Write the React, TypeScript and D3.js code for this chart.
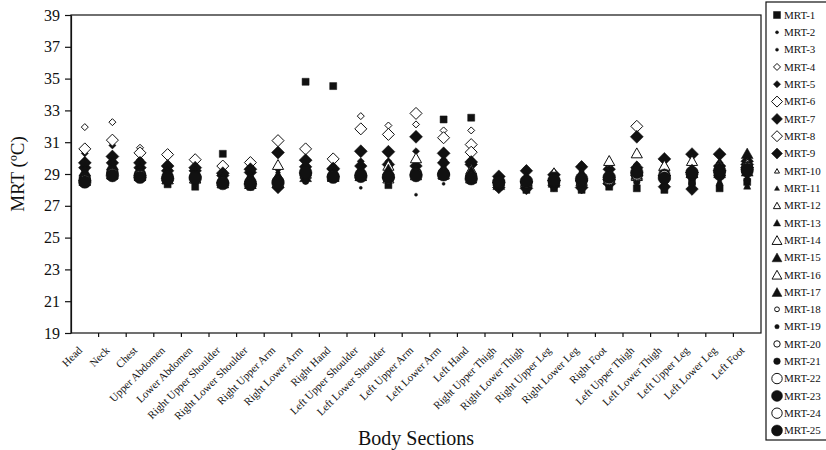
import React, { useEffect, useRef } from "react";
import * as d3 from "d3";

const sections = [
  "Head", "Neck", "Chest", "Upper Abdomen", "Lower Abdomen", "Right Upper Shoulder",
  "Right Lower Shoulder", "Right Upper Arm", "Right Lower Arm", "Right Hand",
  "Left Upper Shoulder", "Left Lower Shoulder", "Left Upper Arm", "Left Lower Arm",
  "Left Hand", "Right Upper Thigh", "Right Lower Thigh", "Right Upper Leg",
  "Right Lower Leg", "Right Foot", "Left Upper Thigh", "Left Lower Thigh",
  "Left Upper Leg", "Left Lower Leg", "Left Foot",
];

const yTicks = [19, 21, 23, 25, 27, 29, 31, 33, 35, 37, 39];

// MRT values (ºC) per body section
const mrt1 = [28.5, 29.0, 28.9, 28.35, 28.2, 30.27, 28.2, 28.6, 34.8, 34.53, 28.8, 28.3, 28.9, 32.43, 32.54, 28.2, 28.0, 28.1, 28.0, 28.2, 28.1, 28.0, 28.5, 28.1, 28.5];
const mrt2 = [29.2, 29.6, 29.3, 29.0, 28.9, 28.7, 28.7, 28.8, 28.6, 29.1, 28.13, 28.9, 27.7, 29.3, 29.0, 28.4, 28.4, 28.4, 28.6, 28.8, 28.8, 28.3, 28.6, 28.4, 28.7];
const mrt3 = [29.4, 29.8, 29.5, 29.2, 29.1, 28.8, 28.9, 29.0, 28.9, 29.2, 29.6, 29.1, 29.1, 28.38, 29.2, 28.6, 28.6, 28.5, 28.7, 28.9, 28.9, 28.5, 28.8, 28.6, 28.9];
const mrt4 = [31.95, 32.26, 30.65, 28.7, 28.75, 28.45, 28.4, 28.5, 29.05, 28.85, 32.64, 32.05, 32.12, 31.74, 31.74, 28.45, 28.5, 28.6, 28.6, 28.65, 28.9, 28.9, 29.1, 29.2, 29.4];
const mrt5 = [30.3, 30.8, 29.9, 29.65, 29.5, 29.2, 29.5, 29.3, 29.55, 29.5, 29.8, 29.8, 30.43, 29.9, 29.9, 28.9, 29.35, 29.0, 29.6, 29.5, 29.6, 29.5, 29.6, 29.7, 30.0];
const mrt6 = [30.58, 31.13, 30.33, 30.22, 29.9, 29.5, 29.72, 31.1, 30.58, 29.95, 31.84, 31.49, 32.81, 31.28, 30.85, 28.45, 28.5, 28.6, 28.6, 28.65, 32.0, 28.9, 29.1, 29.2, 29.4];
const mrt7 = [29.4, 29.7, 29.4, 29.2, 29.2, 28.9, 29.1, 28.15, 29.45, 29.3, 29.5, 29.6, 29.5, 29.7, 29.6, 28.15, 29.2, 28.3, 29.45, 29.3, 29.4, 28.2, 28.05, 29.5, 29.8];
const mrt8 = [28.6, 29.0, 28.9, 28.7, 28.75, 28.45, 28.4, 28.5, 29.05, 28.85, 28.9, 28.75, 28.95, 29.0, 30.37, 28.45, 28.5, 28.6, 28.6, 28.65, 28.9, 28.9, 29.1, 29.2, 29.4];
const mrt9 = [29.7, 30.1, 29.7, 29.5, 29.4, 29.05, 29.3, 30.35, 29.87, 29.35, 30.43, 30.4, 31.34, 30.3, 29.75, 28.85, 28.1, 28.95, 28.15, 28.4, 31.34, 29.95, 30.25, 30.25, 29.6];
const mrt10 = [28.55, 29.0, 28.85, 28.7, 28.7, 28.45, 28.4, 28.5, 29.0, 28.85, 28.9, 28.7, 28.95, 29.0, 28.75, 28.45, 28.5, 29.25, 28.6, 29.6, 28.9, 29.6, 29.1, 29.7, 29.9];
const mrt11 = [29.6, 29.9, 29.6, 29.4, 29.35, 29.0, 29.2, 29.2, 29.35, 29.2, 29.7, 29.7, 29.6, 29.6, 29.5, 28.8, 29.0, 28.9, 29.3, 29.4, 29.5, 29.4, 29.5, 29.9, 28.3];
const mrt12 = [28.6, 28.95, 28.9, 28.7, 28.75, 28.5, 28.4, 28.5, 29.05, 28.8, 28.9, 28.75, 28.9, 29.0, 28.75, 28.45, 28.5, 28.6, 28.65, 28.65, 28.9, 29.55, 29.1, 29.65, 29.75];
const mrt13 = [29.4, 29.8, 29.5, 29.3, 29.25, 28.9, 29.0, 29.0, 29.3, 29.1, 29.4, 29.5, 29.4, 29.5, 29.4, 28.7, 28.9, 28.8, 29.2, 29.25, 29.3, 29.3, 29.45, 29.6, 28.25];
const mrt14 = [28.6, 29.0, 28.9, 28.7, 28.75, 28.45, 28.4, 29.6, 29.05, 28.85, 28.9, 29.55, 30.02, 29.0, 29.3, 28.45, 28.5, 28.6, 28.6, 29.85, 28.9, 29.5, 29.85, 29.2, 29.5];
const mrt15 = [29.2, 29.6, 29.3, 29.1, 29.15, 28.75, 28.85, 28.9, 29.2, 29.0, 29.3, 29.3, 29.3, 29.35, 29.2, 28.6, 28.8, 28.7, 29.0, 29.1, 29.2, 29.2, 29.3, 29.4, 30.3];
const mrt16 = [28.6, 29.0, 28.9, 28.7, 28.75, 28.45, 28.4, 28.5, 29.05, 28.85, 28.9, 28.75, 28.95, 29.0, 28.75, 28.45, 28.5, 28.6, 28.6, 28.65, 30.33, 29.55, 29.1, 29.2, 29.4];
const mrt17 = [29.0, 29.4, 29.1, 28.9, 28.95, 28.6, 28.7, 28.7, 28.85, 28.9, 29.1, 29.1, 29.2, 29.2, 29.0, 28.35, 28.6, 28.5, 28.85, 28.9, 29.0, 29.0, 29.1, 29.1, 29.2];
const mrt18 = [28.55, 29.0, 28.9, 28.75, 28.75, 28.45, 28.4, 28.5, 29.05, 28.85, 28.95, 28.75, 28.95, 29.0, 28.7, 28.45, 28.5, 28.6, 28.6, 28.7, 28.9, 28.9, 29.1, 29.2, 29.4];
const mrt19 = [29.1, 29.5, 29.2, 29.0, 29.1, 28.7, 28.8, 28.8, 28.5, 29.0, 29.2, 28.5, 29.1, 29.1, 29.1, 28.5, 28.7, 28.6, 28.9, 29.0, 28.6, 28.4, 28.6, 28.5, 28.7];
const mrt20 = [28.6, 29.0, 28.9, 28.7, 28.8, 28.45, 28.4, 28.5, 29.05, 28.85, 28.9, 28.8, 28.95, 29.0, 28.75, 28.45, 28.5, 28.6, 28.6, 28.65, 28.9, 28.9, 29.1, 29.2, 29.35];
const mrt21 = [28.9, 29.3, 29.0, 28.85, 29.0, 28.55, 28.6, 28.6, 28.55, 28.95, 29.0, 28.95, 29.0, 29.0, 28.9, 28.3, 28.35, 28.45, 28.5, 28.6, 28.5, 28.3, 28.4, 28.3, 28.6];
const mrt22 = [28.6, 29.0, 28.9, 28.7, 28.75, 28.45, 28.4, 28.5, 29.05, 28.85, 28.9, 28.75, 28.95, 29.0, 28.75, 28.45, 28.5, 28.6, 28.6, 28.65, 28.9, 28.9, 29.1, 29.2, 29.4];
const mrt23 = [28.75, 29.15, 29.0, 28.85, 28.85, 28.5, 28.5, 28.55, 29.0, 28.9, 29.0, 28.85, 29.05, 29.05, 28.8, 28.4, 28.45, 28.55, 28.55, 28.6, 29.0, 28.95, 28.95, 28.95, 29.15];
const mrt24 = [28.6, 29.0, 28.9, 28.7, 28.75, 28.45, 28.4, 28.5, 29.1, 28.85, 28.9, 28.75, 28.95, 29.0, 28.75, 28.5, 28.5, 28.6, 28.65, 28.65, 28.95, 28.9, 29.1, 29.2, 29.4];
const mrt25 = [28.5, 28.9, 28.8, 28.7, 28.75, 28.4, 28.35, 28.45, 29.1, 28.8, 28.85, 28.8, 28.9, 28.95, 28.7, 28.5, 28.55, 28.6, 28.7, 28.8, 29.1, 28.75, 29.1, 29.2, 29.3];

const seriesNames = d3.range(1, 26).map((i) => `MRT-${i}`);
const seriesValues = [
  mrt1, mrt2, mrt3, mrt4, mrt5, mrt6, mrt7, mrt8, mrt9, mrt10, mrt11, mrt12, mrt13,
  mrt14, mrt15, mrt16, mrt17, mrt18, mrt19, mrt20, mrt21, mrt22, mrt23, mrt24, mrt25,
];

// marker look for each series (shape, half size in px, filled or open)
const markerStyles = [
  { shape: "square", r: 3.5, filled: true },
  { shape: "circle", r: 1.5, filled: true },
  { shape: "circle", r: 1.5, filled: true },
  { shape: "diamond", r: 3.5, filled: false },
  { shape: "diamond", r: 3.6, filled: true },
  { shape: "diamond", r: 6, filled: false },
  { shape: "diamond", r: 6.3, filled: true },
  { shape: "diamond", r: 6, filled: false },
  { shape: "diamond", r: 6.5, filled: true },
  { shape: "triangle", r: 2.8, filled: false },
  { shape: "triangle", r: 2.8, filled: true },
  { shape: "triangle", r: 4, filled: false },
  { shape: "triangle", r: 4, filled: true },
  { shape: "triangle", r: 6.2, filled: false },
  { shape: "triangle", r: 6.6, filled: true },
  { shape: "triangle", r: 6.2, filled: false },
  { shape: "triangle", r: 6.6, filled: true },
  { shape: "circle", r: 2.4, filled: false },
  { shape: "circle", r: 2.2, filled: true },
  { shape: "circle", r: 3.2, filled: false },
  { shape: "circle", r: 3.3, filled: true },
  { shape: "circle", r: 5.2, filled: false },
  { shape: "circle", r: 5.8, filled: true },
  { shape: "circle", r: 5.2, filled: false },
  { shape: "circle", r: 6.3, filled: true },
];

const FONT = "'Liberation Serif', 'Times New Roman', serif";

function markerPath(shape: string, r: number) {
  if (shape === "square") return `M${-r},${-r}H${r}V${r}H${-r}Z`;
  if (shape === "diamond") return `M0,${-r}L${r},0L0,${r}L${-r},0Z`;
  if (shape === "triangle") return `M0,${-r * 0.8}L${r * 0.9},${r * 0.8}L${-r * 0.9},${r * 0.8}Z`;
  return d3.symbol(d3.symbolCircle, Math.PI * r * r)() as string;
}

export default function App() {
  const ref = useRef<SVGSVGElement>(null);

  useEffect(() => {
    const svg = d3.select(ref.current);
    svg.selectAll("*").remove();

    const plot = { left: 71, right: 761, top: 15, bottom: 333 };

    const x = d3.scaleBand().domain(sections).range([plot.left, plot.right]);
    const y = d3.scaleLinear().domain([19, 39]).range([plot.bottom, plot.top]);
    const bw = x.bandwidth();

    svg.append("rect").attr("width", 826).attr("height", 450).attr("fill", "#fff");

    // frame
    svg.append("rect")
      .attr("x", plot.left).attr("y", plot.top)
      .attr("width", plot.right - plot.left).attr("height", plot.bottom - plot.top)
      .attr("fill", "none").attr("stroke", "#111").attr("stroke-width", 1.2);

    // y axis
    const yAxis = svg.append("g")
      .attr("transform", `translate(${plot.left},0)`)
      .call(d3.axisLeft(y).tickValues(yTicks).tickSize(6).tickSizeOuter(0).tickPadding(5));
    yAxis.select(".domain").attr("stroke", "#111").attr("stroke-width", 1.2);
    yAxis.selectAll(".tick line").attr("stroke", "#111").attr("stroke-width", 1.2);
    yAxis.selectAll(".tick text")
      .attr("font-family", FONT).attr("font-size", 16).attr("fill", "#111");

    // x ticks at band edges
    svg.append("g").selectAll("line")
      .data(sections.slice(1))
      .join("line")
      .attr("x1", (d) => x(d)!).attr("x2", (d) => x(d)!)
      .attr("y1", plot.bottom).attr("y2", plot.bottom + 4)
      .attr("stroke", "#111").attr("stroke-width", 1.2);

    // x labels
    svg.append("g").selectAll("text")
      .data(sections)
      .join("text")
      .attr("transform", (d) => `translate(${x(d)! + bw / 2 - 2},${plot.bottom + 18}) rotate(-45)`)
      .attr("text-anchor", "end")
      .attr("font-family", FONT).attr("font-size", 11).attr("fill", "#111")
      .text((d) => d);

    // axis titles
    svg.append("text")
      .attr("transform", `translate(24,${(plot.top + plot.bottom) / 2}) rotate(-90)`)
      .attr("text-anchor", "middle")
      .attr("font-family", FONT).attr("font-size", 19).attr("fill", "#111")
      .text("MRT (ºC)");

    svg.append("text")
      .attr("x", (plot.left + plot.right) / 2).attr("y", 445)
      .attr("text-anchor", "middle")
      .attr("font-family", FONT).attr("font-size", 20).attr("fill", "#111")
      .text("Body Sections");

    // points
    seriesValues.forEach((vals, si) => {
      const st = markerStyles[si];
      svg.append("g").selectAll("path")
        .data(vals)
        .join("path")
        .attr("d", markerPath(st.shape, st.r))
        .attr("transform", (v, i) => `translate(${x(sections[i])! + bw / 2},${y(v)})`)
        .attr("fill", st.filled ? "#111" : "#fff")
        .attr("stroke", "#111")
        .attr("stroke-width", st.filled ? 0.5 : 1);
    });

    // legend
    const lg = svg.append("g");
    lg.append("rect")
      .attr("x", 766).attr("y", 2).attr("width", 80).attr("height", 438)
      .attr("fill", "#fff").attr("stroke", "#111").attr("stroke-width", 1.2);
    const ly = d3.scaleLinear().domain([0, 24]).range([15, 430.5]);
    seriesNames.forEach((name, si) => {
      const st = markerStyles[si];
      const r = Math.min(st.r, 5.5);
      lg.append("path")
        .attr("d", markerPath(st.shape, r))
        .attr("transform", `translate(777,${ly(si)})`)
        .attr("fill", st.filled ? "#111" : "#fff")
        .attr("stroke", "#111")
        .attr("stroke-width", st.filled ? 0.5 : 1);
      lg.append("text")
        .attr("x", 784).attr("y", ly(si))
        .attr("dy", "0.35em")
        .attr("font-family", FONT).attr("font-size", 11).attr("fill", "#111")
        .text(name);
    });
  }, []);

  return (
    <svg
      ref={ref}
      width={826}
      height={450}
      style={{ position: "absolute", left: 0, top: 0 }}
    />
  );
}
